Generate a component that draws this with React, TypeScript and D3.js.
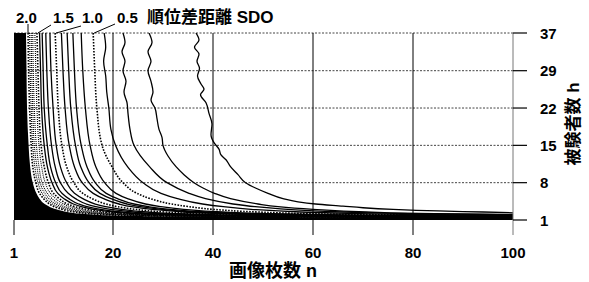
import React from 'react';
import * as d3 from 'd3';

// ---------- data ----------
const xTicks = [1, 20, 40, 60, 80, 100];
const yTicks = [1, 8, 15, 22, 29, 37];
const labelLevels = ['2.0', '1.5', '1.0', '0.5'];
const titleText = '順位差距離 SDO';
const xTitle = '画像枚数 n';
const yTitle = '被験者数 h';

// contour polylines as [n, h] points, levels of SDO
const c01 = [[36.6,37],[37.2,35.5],[36.3,34],[37.2,32.5],[36.8,31],[37.3,29.5],[36.9,28],[37.6,26.5],[38.2,25.5],[37.5,24.5],[38.6,23],[39.2,21],[39.8,19],[39.6,17],[40.2,15.5],[41.2,14.3],[41.6,13.2],[42.6,12.3],[43.5,11],[45,9.5],[46.5,8],[48.5,7],[51,6],[54,5],[57,4.4],[60.5,4],[66,3.6],[70,3.3],[76,3],[85,2.7],[94,2.5],[100,2.35]];
const c02 = [[27.2,37],[27.8,35],[27.0,33],[27.6,31],[27.0,29],[27.6,27],[28.0,25],[27.6,23.5],[28.4,22],[28.8,20],[29.2,18],[29.8,16.5],[30,15],[31,13],[32.6,11],[34.2,9.5],[36.2,8],[38,7],[40.3,6],[43.5,5],[49,4],[53,3.5],[60,3],[70.7,2.5],[84.3,2.2],[100,2.05]];
const c03 = [[22,37],[22.4,35],[21.8,33],[22.4,31],[22,29],[22.6,27],[22.2,25],[22.8,23],[23,21],[23.4,18],[24.2,15],[27.3,11],[30.8,8],[35.2,6],[38.5,5],[44,4],[48.4,3.5],[55,3],[66,2.5],[79.2,2.2],[96.8,2.0],[100,1.97]];
const c04 = [[18.3,37],[18.6,34],[18.2,31],[18.6,28],[18.8,25],[19.2,22],[19.6,18],[20.5,15],[22.9,11],[26,8],[29.6,6],[32.9,5],[37.9,4],[42.1,3.5],[47.6,3],[57.6,2.5],[69.5,2.2],[84.2,2.0],[100,1.9]];
const c05 = [[16.2,37],[16.5,29],[16.9,22],[17.9,15],[19.8,11],[22,8],[24.8,6],[27.5,5],[31.7,4],[35.2,3.5],[40,3],[49,2.5],[59,2.2],[72,2.0],[99,1.8],[100,1.795]];
const c06 = [[13.9,37],[14.2,29],[14.7,22],[15.6,15],[16.7,11],[18.4,8],[20.6,6],[22.9,5],[26.5,4],[29.5,3.5],[34.1,3],[42,2.5],[50.7,2.2],[62.2,2.0],[86.2,1.8],[100,1.76]];
const c07 = [[12.3,37],[12.6,29],[13.0,22],[13.9,15],[15,11],[16.6,8],[18.7,6],[20.9,5],[24.2,4],[27.1,3.5],[31.4,3],[38.7,2.5],[46.7,2.2],[57.2,2.0],[78.7,1.8],[100,1.72]];
const c08 = [[11.2,37],[11.5,29],[11.9,22],[12.8,15],[13.8,11],[15.4,8],[17.5,6],[19.6,5],[22.8,4],[25.5,3.5],[29.7,3],[36.7,2.5],[44.2,2.2],[54,2.0],[73.9,1.8],[100,1.69]];
const c09 = [[10.1,37],[10.4,29],[10.8,22],[11.6,15],[12.6,11],[14.1,8],[16.2,6],[18.2,5],[21.2,4],[23.7,3.5],[27.8,3],[34.3,2.5],[41.4,2.2],[50.5,2.0],[68.7,1.8],[100,1.65]];
const c10 = [[8.9,37],[9.2,29],[9.5,22],[10.2,15],[11.1,11],[12.5,8],[14.2,6],[16,5],[18.7,4],[20.9,3.5],[24.5,3],[30.3,2.5],[36.5,2.2],[44.5,2.0],[60.5,1.8],[89,1.65],[100,1.625]];
const c11 = [[7.9,37],[8.1,29],[8.5,22],[9.1,15],[9.9,11],[11.1,8],[12.6,6],[14.2,5],[16.6,4],[18.6,3.5],[21.7,3],[26.9,2.5],[32.4,2.2],[39.5,2.0],[53.7,1.8],[79,1.65],[100,1.6]];
const c12 = [[7.1,37],[7.3,29],[7.6,22],[8.2,15],[8.9,11],[9.9,8],[11.4,6],[12.8,5],[14.9,4],[16.7,3.5],[19.5,3],[24.1,2.5],[29.1,2.2],[35.5,2.0],[48.3,1.8],[71,1.65],[100,1.57]];
const c13 = [[6.4,37],[6.6,29],[6.8,22],[7.4,15],[8,11],[9,8],[10.2,6],[11.5,5],[13.4,4],[15,3.5],[17.6,3],[21.8,2.5],[26.2,2.2],[32,2.0],[43.5,1.8],[64,1.65],[96,1.55],[100,1.545]];
const c14 = [[5.9,37],[6.1,29],[6.3,22],[6.8,15],[7.4,11],[8.3,8],[9.4,6],[10.6,5],[12.4,4],[13.9,3.5],[16.2,3],[20.1,2.5],[24.2,2.2],[29.5,2.0],[40.1,1.8],[59,1.65],[88.5,1.55],[100,1.535]];
const c15 = [[5.4,37],[5.6,29],[5.8,22],[6.2,15],[6.8,11],[7.6,8],[8.6,6],[9.7,5],[11.3,4],[12.7,3.5],[14.9,3],[18.4,2.5],[22.1,2.2],[27,2.0],[36.7,1.8],[54,1.65],[81,1.55],[100,1.52]];
const c16 = [[5,37],[5.2,29],[5.4,22],[5.8,15],[6.3,11],[7,8],[8,6],[9,5],[10.5,4],[11.8,3.5],[13.8,3],[17,2.5],[20.5,2.2],[25,2.0],[34,1.8],[50,1.65],[75,1.55],[100,1.51]];
const c17 = [[4.6,37],[4.7,29],[4.9,22],[5.3,15],[5.8,11],[6.4,8],[7.4,6],[8.3,5],[9.7,4],[10.8,3.5],[12.7,3],[15.6,2.5],[18.9,2.2],[23,2.0],[31.3,1.8],[46,1.65],[69,1.55],[96.6,1.5],[100,1.495]];
const c18 = [[4.3,37],[4.4,29],[4.6,22],[4.9,15],[5.4,11],[6,8],[6.9,6],[7.7,5],[9,4],[10.1,3.5],[11.8,3],[14.6,2.5],[17.6,2.2],[21.5,2.0],[29.2,1.8],[43,1.65],[64.5,1.55],[90.3,1.5],[100,1.49]];
const c19 = [[4,37],[4.1,29],[4.3,22],[4.6,15],[5,11],[5.6,8],[6.4,6],[7.2,5],[8.4,4],[9.4,3.5],[11,3],[13.6,2.5],[16.4,2.2],[20,2.0],[27.2,1.8],[40,1.65],[60,1.55],[84,1.5],[100,1.48]];
const c20 = [[3.7,37],[3.8,29],[4.0,22],[4.3,15],[4.6,11],[5.2,8],[5.9,6],[6.7,5],[7.8,4],[8.7,3.5],[10.2,3],[12.6,2.5],[15.2,2.2],[18.5,2.0],[25.2,1.8],[37,1.65],[55.5,1.55],[77.7,1.5],[100,1.47]];
// edge of the saturated (dense) zone, SDO above 2
const saturatedEdge = [[3.3,37],[3.4,29],[3.5,22],[3.8,15],[4.1,11],[4.6,8],[5.3,6],[5.9,5],[6.9,4],[7.8,3.5],[9.1,3],[11.2,2.5],[13.5,2.2],[16.5,2.0],[22.4,1.8],[33,1.65],[49.5,1.55],[69.3,1.5],[100,1.46]];

const contourLevels = [0.1,0.2,0.3,0.4,0.5,0.6,0.7,0.8,0.9,1.0,1.1,1.2,1.3,1.4,1.5,1.6,1.7,1.8,1.9,2.0];
const contourLines = [c01,c02,c03,c04,c05,c06,c07,c08,c09,c10,c11,c12,c13,c14,c15,c16,c17,c18,c19,c20];

// ---------- layout ----------
const W = 589, H = 282;
const x = d3.scaleLinear().domain([1, 20, 100]).range([14, 113, 513]);
const y = d3.scaleLinear().domain([1, 29, 37]).range([220, 70.7, 33]);
const latin = "'Liberation Sans', Arial, sans-serif";
const cjk = "'Liberation Sans', 'Noto Sans CJK JP', sans-serif";

export default function App() {
  const line = d3.line<number[]>().x(d => x(d[0])).y(d => y(d[1])).curve(d3.curveMonotoneY);
  const x0 = x(1), x1 = x(100), yTop = y(37), yBot = y(1);
  const satPath = line(saturatedEdge) + `L${x1},${yBot}L${x0},${yBot}L${x0},${yTop}Z`;
  const labelPos = [
    { tx: 16, lx1: 28, ly1: 24, lvl: 2.0 },
    { tx: 53, lx1: 51, ly1: 25, lvl: 1.5 },
    { tx: 82, lx1: 81, ly1: 26, lvl: 1.0 },
    { tx: 117, lx1: 115, ly1: 24, lvl: 0.5 },
  ];
  return (
    <svg width={W} height={H} style={{ position: 'absolute', left: 0, top: 0, background: '#fff' }}>
      <defs>
        <clipPath id="plot">
          <rect x={x0} y={yTop} width={x1 - x0} height={yBot - yTop} />
        </clipPath>
      </defs>
      <rect x={0} y={0} width={W} height={H} fill="#fff" />
      {yTicks.filter(t => t !== 1).map(t => (
        <line key={'hg' + t} x1={x0} x2={x1} y1={y(t)} y2={y(t)} stroke="#444" strokeWidth={1} strokeDasharray="2,1.5" />
      ))}
      <g clipPath="url(#plot)">
        <path d={satPath} fill="#000" />
        {contourLines.map((pts, i) => {
          const lvl = contourLevels[i];
          const major = Math.round(lvl * 10) % 5 === 0;
          const dense = lvl > 1.55 && !major;
          return (
            <path key={'c' + i} d={line(pts) || ''} fill="none" stroke="#000"
              strokeWidth={major ? 1.6 : dense ? 1.1 : 1.3}
              strokeDasharray={major ? '1.6,1.4' : dense ? '1,1' : undefined} />
          );
        })}
      </g>
      {xTicks.map(t => (
        <line key={'vg' + t} x1={x(t)} x2={x(t)}
          y1={t === 1 ? yBot : yTop} y2={yBot + 15}
          stroke={t === 100 ? '#777' : '#000'} strokeWidth={1} />
      ))}
      {yTicks.map(t => (
        <line key={'yt' + t} x1={x1} x2={x1 + 14} y1={y(t)} y2={y(t)} stroke="#000" strokeWidth={1.2} />
      ))}
      {xTicks.map(t => (
        <text key={'xl' + t} x={x(t)} y={258} textAnchor="middle" fontFamily={latin} fontSize={15} fontWeight="bold">{t}</text>
      ))}
      {yTicks.map(t => (
        <text key={'yl' + t} x={540} y={y(t) + 5.5} textAnchor="start" fontFamily={latin} fontSize={15} fontWeight="bold">{t}</text>
      ))}
      <text x={273} y={277} textAnchor="middle" fontFamily={cjk} fontSize={18} fontWeight="bold">{xTitle}</text>
      <text transform={`translate(579,124) rotate(-90)`} textAnchor="middle" fontFamily={cjk} fontSize={17} fontWeight="bold">{yTitle}</text>
      {labelPos.map((p, i) => {
        const idx = contourLevels.findIndex(l => Math.abs(l - p.lvl) < 1e-6);
        const top = contourLines[idx][0];
        return (
          <g key={'lab' + i}>
            <text x={p.tx} y={23} fontFamily={latin} fontSize={15} fontWeight="bold">{labelLevels[i]}</text>
            <line x1={p.lx1} y1={p.ly1} x2={i === 0 ? p.lx1 : x(top[0]) + 1} y2={y(top[1])} stroke="#000" strokeWidth={1} />
          </g>
        );
      })}
      <text x={147} y={23} fontFamily={cjk} fontSize={17} fontWeight="bold">{titleText}</text>
    </svg>
  );
}
